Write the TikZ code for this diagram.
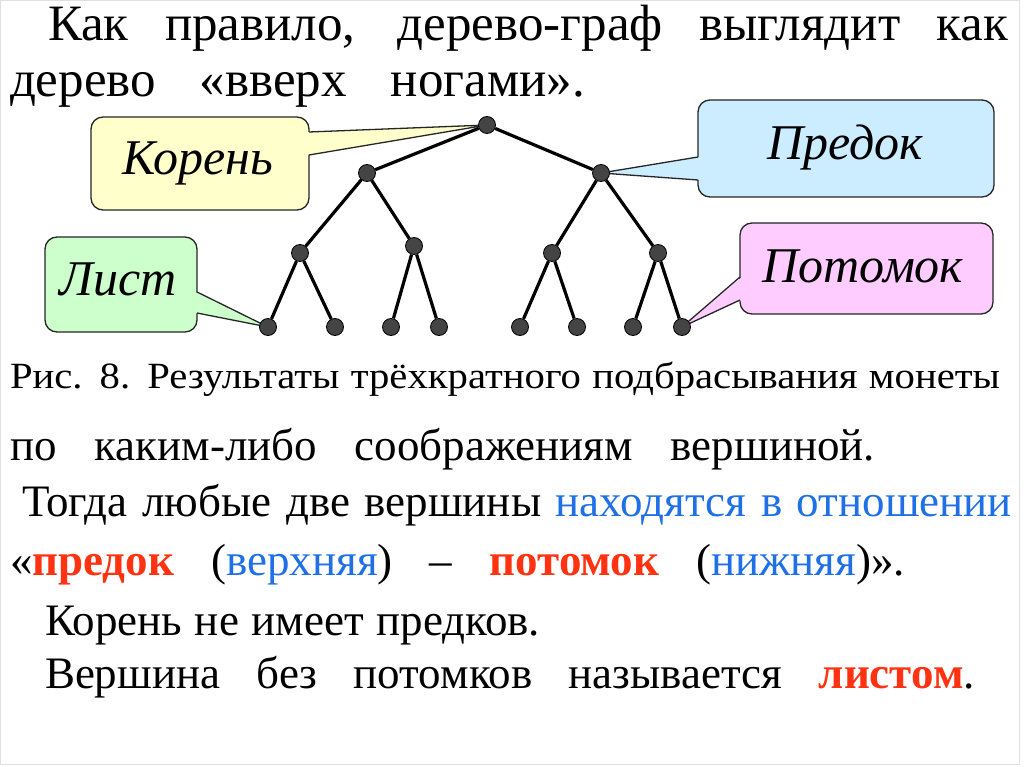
\documentclass[tikz,border=0pt]{standalone}
\usepackage{fontspec}
\setmainfont{Liberation Serif}
\newfontfamily\capfont[FakeStretch=1.1]{Liberation Serif}
\usetikzlibrary{backgrounds}
\definecolor{kred}{HTML}{FF3311}
\definecolor{kblue}{HTML}{1F6FE5}
\definecolor{cyel}{HTML}{FFFFCC}
\definecolor{cblue}{HTML}{CCECFF}
\definecolor{cgreen}{HTML}{CCFFCC}
\definecolor{cpink}{HTML}{FFCCFF}
\definecolor{dotc}{HTML}{444444}
\begin{document}
\begin{tikzpicture}[x=1pt,y=-1pt,
  txt/.style={anchor=base west, inner sep=0, outer sep=0},
  big/.style={font=\fontsize{51}{55}\selectfont},
  body/.style={font=\fontsize{45}{50}\selectfont},
  dot/.style={circle, fill=dotc, draw=black, line width=0.8, minimum size=17, inner sep=0},
  edge/.style={line width=3.2, black},
  box/.style={draw=black!85, line width=1.3, rounded corners=12},
  ptr/.style={draw=black!85, line width=1.3, line join=miter},
  callt/.style={font=\fontsize{50}{54}\itshape\selectfont, anchor=base, inner sep=0},
]
\useasboundingbox (0,0) rectangle (1024,767);

% text
\node[txt,big] (t1) at (48,41) {\makebox[960pt][s]{Как правило, дерево-граф выглядит как}};
\node[txt,big] (t2) at (10,97) {\makebox[575pt][s]{дерево «вверх ногами».}};
\node[txt] (t3) at (10,388) {\capfont\fontsize{37}{40}\selectfont\makebox[990pt][s]{Рис. 8. Результаты трёхкратного подбрасывания монеты}};
\node[txt,body] (t4) at (10,460) {\makebox[865pt][s]{по каким-либо соображениям вершиной.}};
\node[txt,body] (t5) at (22,516) {\makebox[990pt][s]{Тогда любые две вершины \textcolor{kblue}{находятся в отношении}}};
\node[txt,body] (t6) at (10,575) {\makebox[895pt][s]{«\textcolor{kred}{\textbf{предок}} (\textcolor{kblue}{верхняя}) – \textcolor{kred}{\textbf{потомок}} (\textcolor{kblue}{нижняя})».}};
\node[txt,body] (t7) at (45,635) {\makebox[495pt][s]{Корень не имеет предков.}};
\node[txt,body] (t8) at (45,688) {\makebox[930pt][s]{Вершина без потомков называется \textcolor{kred}{\textbf{листом}}.}};

% tree nodes
\node[dot] (r) at (487,125) {};
\node[dot] (a) at (367,173) {};
\node[dot] (b) at (601,173) {};
\node[dot] (aa) at (300,253) {};
\node[dot] (ab) at (414,246) {};
\node[dot] (ba) at (552,253) {};
\node[dot] (bb) at (658,253) {};
\node[dot] (l1) at (268,327) {};
\node[dot] (l2) at (335,327) {};
\node[dot] (l3) at (391,327) {};
\node[dot] (l4) at (439,327) {};
\node[dot] (l5) at (520,327) {};
\node[dot] (l6) at (577,327) {};
\node[dot] (l7) at (633,327) {};
\node[dot] (l8) at (682,327) {};

% callout texts
\node[callt] (tk) at (198,175) {Корень};
\node[callt] (tp) at (845,160) {Предок};
\node[callt] (tl) at (118,295) {Лист};
\node[callt] (tm) at (863,282) {Потомок};

\begin{scope}[on background layer]
  \fill[white] (0,0) rectangle (1024,767);
  \draw[black!12, line width=1] (0.5,0.5) rectangle (1019.5,764.5);
  % callouts
  \filldraw[box, fill=cyel] (91,117) rectangle (309,210);
  \fill[cyel] (307,132) -- (r.center) -- (307,155) -- cycle;
  \draw[ptr] (309,132) -- (r.center) -- (309,155);
  \filldraw[box, fill=cblue] (698,100) rectangle (994,197);
  \fill[cblue] (700,157) -- (b.center) -- (700,180) -- cycle;
  \draw[ptr] (698,157) -- (b.center) -- (698,180);
  \filldraw[box, fill=cpink] (740,223) rectangle (993,314);
  \fill[cpink] (742,277) -- (l8.center) -- (742,300) -- cycle;
  \draw[ptr] (740,277) -- (l8.center) -- (740,300);
  \filldraw[box, fill=cgreen] (45,237) rectangle (197,332);
  \fill[cgreen] (195,292) -- (l1.center) -- (195,313) -- cycle;
  \draw[ptr] (197,292) -- (l1.center) -- (197,313);
  % edges
  \draw[edge] (r) -- (a);
  \draw[edge] (r) -- (b);
  \draw[edge] (a) -- (aa);
  \draw[edge] (a) -- (ab);
  \draw[edge] (b) -- (ba);
  \draw[edge] (b) -- (bb);
  \draw[edge] (aa) -- (l1);
  \draw[edge] (aa) -- (l2);
  \draw[edge] (ab) -- (l3);
  \draw[edge] (ab) -- (l4);
  \draw[edge] (ba) -- (l5);
  \draw[edge] (ba) -- (l6);
  \draw[edge] (bb) -- (l7);
  \draw[edge] (bb) -- (l8);
\end{scope}
\end{tikzpicture}
\end{document}
